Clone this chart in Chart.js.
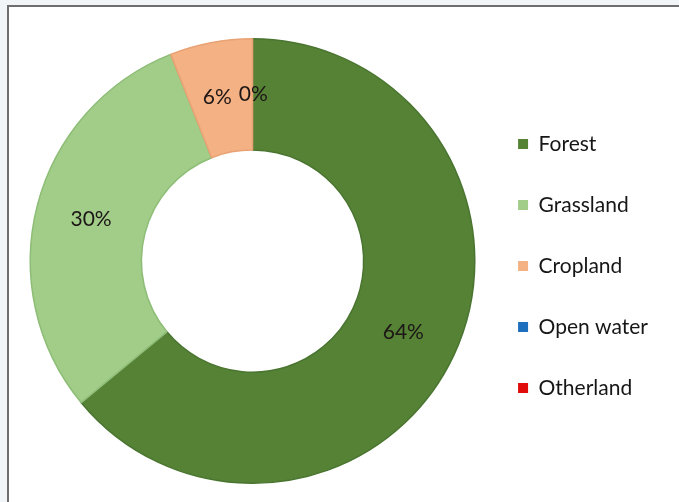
<!DOCTYPE html>
<html lang="en">
<head>
  <meta charset="UTF-8" />
  <title>Land cover share</title>
  <script src="https://cdn.jsdelivr.net/npm/chart.js"></script>
  <style>
    html, body {
      margin: 0;
      padding: 0;
      background: #f2f5f7;
    }
    .wrap {
      position: relative;
      width: 679px;
      height: 502px;
      overflow: hidden;
    }
    .frame {
      position: absolute;
      left: 7px;
      top: 5px;
      right: -10px;
      bottom: -10px;
      background: #fff;
      border-top: 2px solid #6e6e6e;
      border-left: 2px solid #6e6e6e;
    }
    .chart-box {
      position: absolute;
      left: 0;
      top: 0;
      width: 679px;
      height: 502px;
    }
  </style>
</head>
<body>
  <div class="wrap">
    <div class="frame"></div>
    <div class="chart-box">
      <canvas id="landChart"></canvas>
    </div>
  </div>

  <script>
    const categories = ['Forest', 'Grassland', 'Cropland', 'Open water', 'Otherland'];
    const shares = [64, 30, 6, 0, 0];  // percent of total area

    const fillColors = ['#558235', '#a1cd89', '#f4b183', '#1f6fbf', '#e00b0b'];
    const edgeColors = ['#4a7530', '#8dbd76', '#e9a274', '#1f6fbf', '#e00b0b'];
    const textColor = '#161616';

    // writes the percentage on each slice, nudging labels apart when they touch
    const sliceLabels = {
      id: 'sliceLabels',
      afterDatasetsDraw(chart) {
        const ctx = chart.ctx;
        const meta = chart.getDatasetMeta(0);
        ctx.save();
        ctx.font = '21px Lato';
        ctx.fillStyle = '#1c1616';
        ctx.textAlign = 'center';
        ctx.textBaseline = 'middle';

        const boxes = [];
        meta.data.forEach((arc, i) => {
          const pos = arc.tooltipPosition();
          if (boxes.some(b => Math.abs(b.x - pos.x) < 1 && Math.abs(b.y - pos.y) < 1)) return;
          const text = shares[i] + '%';
          boxes.push({ x: pos.x, y: pos.y, w: ctx.measureText(text).width, text });
        });

        for (let i = 0; i < boxes.length; i++) {
          for (let j = i + 1; j < boxes.length; j++) {
            const a = boxes[i], b = boxes[j];
            if (Math.abs(a.y - b.y) > 20) continue;
            const overlap = (a.w + b.w) / 2 + 7 - Math.abs(a.x - b.x);
            if (overlap > 0) {
              if (a.x <= b.x) { a.x -= overlap * 0.85; b.x += overlap * 0.15; }
              else { a.x += overlap * 0.85; b.x -= overlap * 0.15; }
            }
          }
        }

        boxes.forEach(b => ctx.fillText(b.text, b.x, b.y));
        ctx.restore();
      }
    };

    function drawChart() {
      Chart.defaults.font.family = 'Lato';
      Chart.defaults.color = textColor;
      new Chart(document.getElementById('landChart').getContext('2d'), {
        type: 'doughnut',
        data: {
          labels: categories,
          datasets: [{
            data: shares,
            backgroundColor: fillColors,
            borderColor: edgeColors,
            borderWidth: c => (c.raw > 0 ? 1.5 : 0),
            hoverOffset: 0
          }]
        },
        options: {
          responsive: true,
          maintainAspectRatio: false,
          animation: false,
          cutout: '50%',
          layout: {
            padding: { left: 27, top: 38, bottom: 18, right: 21 }
          },
          plugins: {
            tooltip: { enabled: false },
            legend: {
              position: 'right',
              align: 'center',
              // empty title only pushes the item list a little lower
              title: { display: true, text: '', padding: 5, font: { size: 0 } },
              labels: {
                boxWidth: 10,
                boxHeight: 10,
                padding: 40,
                color: textColor,
                font: { size: 21, family: 'Lato' },
                generateLabels: chart => categories.map((name, i) => ({
                  text: name,
                  fillStyle: fillColors[i],
                  strokeStyle: fillColors[i],
                  fontColor: textColor,
                  lineWidth: 0,
                  hidden: false,
                  index: i
                }))
              }
            }
          }
        },
        plugins: [sliceLabels]
      });
    }

    document.fonts.load('21px Lato').then(drawChart, drawChart);
  </script>
</body>
</html>
